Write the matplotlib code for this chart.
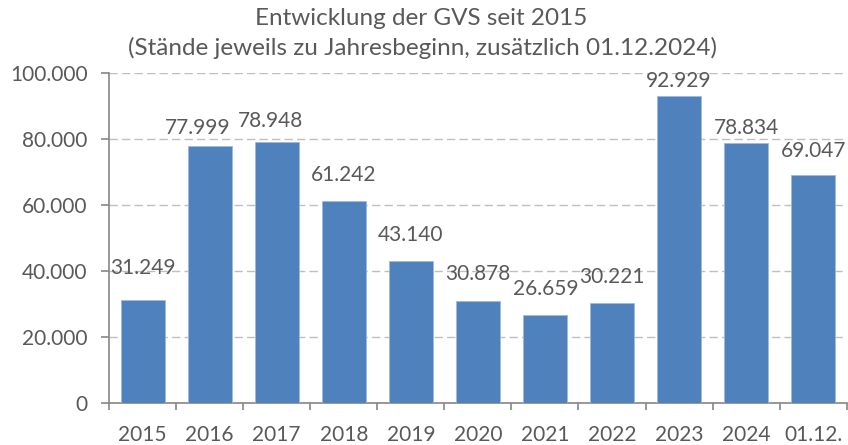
import numpy as np
import matplotlib.pyplot as plt
import matplotlib.ticker as ticker

plt.rcParams['font.family'] = ['Lato', 'DejaVu Sans']

# ================= Daten =================
categories = ['2015', '2016', '2017', '2018', '2019', '2020', '2021', '2022', '2023', '2024', '01.12.']
values = [31249, 77999, 78948, 61242, 43140, 30878, 26659, 30221, 92929, 78834, 69047]

# Versatz der Wertbeschriftung gegenüber Balkenoberkante (Pixel, manuell wie im Original)
label_dx = [0, -12, -6, 0, 0, 0, 1, 0, 0, 0, 0]
label_dy = [32, 18, 21, 26, 26, 27, 26, 26, 15, 15, 24]

TEXT = '#595959'
AXIS = '#868686'
BAR = '#4f81bd'


def de_fmt(v, pos=None):
    return f"{int(v):,}".replace(',', '.')


fig = plt.figure(figsize=(8.48, 4.45), dpi=100)
ax = fig.add_axes([0.1285, 0.0944, 0.870, 0.7416])

x = np.arange(len(categories))
ax.bar(x, values, width=0.656, color=BAR, edgecolor='#9dbbe0', linewidth=0.6, zorder=3)

px = 72.0 / fig.dpi
for xi, v, dx, dy in zip(x, values, label_dx, label_dy):
    ax.annotate(de_fmt(v), xy=(xi, v), xytext=(dx * px, dy * px),
                textcoords='offset points', ha='center', va='center',
                fontsize=15, color=TEXT, zorder=4)

ax.set_xlim(-0.5, len(categories) - 0.5)
ax.set_ylim(0, 100000)
ax.yaxis.set_major_locator(ticker.MultipleLocator(20000))
ax.yaxis.set_major_formatter(ticker.FuncFormatter(de_fmt))

# Kategorie-Beschriftung mittig, Ticks an den Grenzen
ax.set_xticks(np.arange(len(categories) + 1) - 0.5)
ax.set_xticklabels([])
ax.set_xticks(x, minor=True)
ax.set_xticklabels(categories, minor=True)
ax.tick_params(axis='x', which='major', length=5, width=1.2, color=AXIS, direction='out')
ax.tick_params(axis='x', which='minor', length=0, pad=16, labelsize=15, labelcolor=TEXT)
ax.tick_params(axis='y', length=5.5, width=1.2, color=AXIS, labelsize=15,
               labelcolor=TEXT, pad=10)

ax.grid(axis='y', linestyle=(0, (6, 3)), color='#bfbfbf', linewidth=1, zorder=0)
for s in ['top', 'right']:
    ax.spines[s].set_visible(False)
for s in ['left', 'bottom']:
    ax.spines[s].set_color(AXIS)
    ax.spines[s].set_linewidth(1.2)

fig.text(0.4965, 0.958, 'Entwicklung der GVS seit 2015', ha='center', va='center',
         fontsize=17.5, color=TEXT)
fig.text(0.4985, 0.893, '(Stände jeweils zu Jahresbeginn, zusätzlich 01.12.2024)',
         ha='center', va='center', fontsize=17.5, color=TEXT)

plt.savefig('out.png', dpi=100)
